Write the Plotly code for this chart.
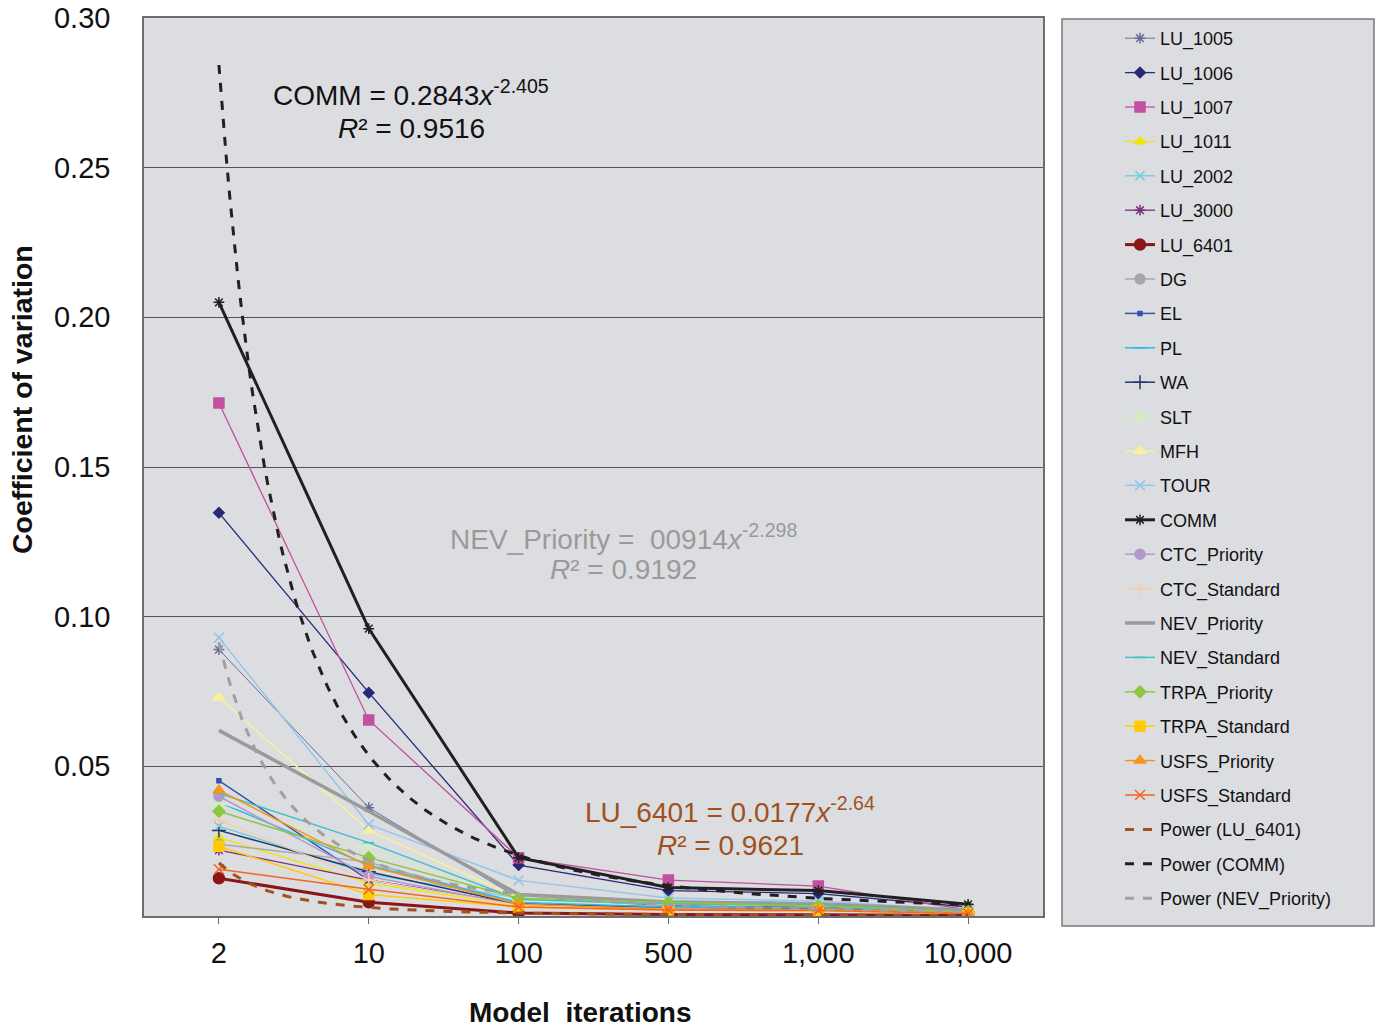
import numpy as np
import plotly.graph_objects as go

# ---------------- data ----------------
iterations = ["2", "10", "100", "500", "1,000", "10,000"]
x_idx = [1, 2, 3, 4, 5, 6]

LU_1005 = [0.089, 0.0362, 0.0060, 0.0035, 0.0030, 0.0015]
LU_1006 = [0.1347, 0.0746, 0.0170, 0.0085, 0.0075, 0.0030]
LU_1007 = [0.1714, 0.0655, 0.0195, 0.0120, 0.0100, 0.0020]
LU_1011 = [0.0262, 0.0110, 0.0035, 0.0020, 0.0018, 0.0008]
LU_2002 = [0.0300, 0.0140, 0.0060, 0.0050, 0.0045, 0.0015]
LU_3000 = [0.0220, 0.0120, 0.0040, 0.0030, 0.0025, 0.0012]
LU_6401 = [0.0126, 0.0046, 0.0010, 0.0005, 0.0004, 0.0002]
DG = [0.0240, 0.0180, 0.0040, 0.0030, 0.0025, 0.0010]
EL = [0.0452, 0.0120, 0.0040, 0.0025, 0.0022, 0.0010]
PL = [0.0380, 0.0170, 0.0045, 0.0030, 0.0025, 0.0012]
WA = [0.0286, 0.0148, 0.0040, 0.0025, 0.0022, 0.0010]
SLT = [0.0380, 0.0222, 0.0055, 0.0040, 0.0035, 0.0015]
MFH = [0.0730, 0.0286, 0.0060, 0.0040, 0.0035, 0.0015]
TOUR = [0.0930, 0.0306, 0.0119, 0.0060, 0.0050, 0.0020]
COMM = [0.2050, 0.0960, 0.0195, 0.0095, 0.0085, 0.0039]
CTC_Priority = [0.0400, 0.0133, 0.0035, 0.0025, 0.0020, 0.0010]
CTC_Standard = [0.0320, 0.0120, 0.0035, 0.0022, 0.0020, 0.0010]
NEV_Priority = [0.0620, 0.0350, 0.0072, 0.0047, 0.0040, 0.0020]
NEV_Standard = [0.0410, 0.0245, 0.0055, 0.0040, 0.0035, 0.0015]
TRPA_Priority = [0.0350, 0.0195, 0.0059, 0.0045, 0.0033, 0.0015]
TRPA_Standard = [0.0233, 0.0072, 0.0030, 0.0020, 0.0018, 0.0008]
USFS_Priority = [0.0420, 0.0166, 0.0040, 0.0022, 0.0022, 0.0010]
USFS_Standard = [0.0156, 0.0089, 0.0030, 0.0020, 0.0018, 0.0008]

# power trendline coefficients (as shown on chart): y = a * x^b
trend_LU_6401 = (0.0177, -2.64)
trend_COMM = (0.2843, -2.405)
trend_NEV = (0.0914, -2.298)

y_ticks = [0.05, 0.10, 0.15, 0.20, 0.25, 0.30]

# ---------------- figure ----------------
FONT = "Liberation Sans, Arial, sans-serif"
series = [
    ("LU_1005", LU_1005, "#6c6c9c", 1, "asterisk-open", 9),
    ("LU_1006", LU_1006, "#27287a", 1.3, "diamond", 8),
    ("LU_1007", LU_1007, "#c150a0", 1.3, "square", 10),
    ("LU_1011", LU_1011, "#f2e600", 1.3, "triangle-up", 9),
    ("LU_2002", LU_2002, "#66d0e0", 1.3, "x-thin-open", 9),
    ("LU_3000", LU_3000, "#7d2f82", 1.3, "asterisk-open", 9),
    ("LU_6401", LU_6401, "#8b1518", 3, "circle", 11),
    ("DG", DG, "#a7a7a9", 1.5, "circle", 10),
    ("EL", EL, "#3553ad", 1.5, "square", 4),
    ("PL", PL, "#27b9ea", 1.5, "line-ew-open", 8),
    ("WA", WA, "#203a6e", 1.5, "cross-thin-open", 10),
    ("SLT", SLT, "#d3e9c8", 1.5, "square", 10),
    ("MFH", MFH, "#f8f19a", 1.5, "triangle-up", 10),
    ("TOUR", TOUR, "#94c5ea", 1.5, "x-thin-open", 10),
    ("COMM", COMM, "#231f20", 3, "asterisk-open", 9),
    ("CTC_Priority", CTC_Priority, "#b398cd", 1.5, "circle", 10),
    ("CTC_Standard", CTC_Standard, "#f9cca5", 1.5, "cross-thin-open", 10),
    ("NEV_Priority", NEV_Priority, "#9a9a9a", 3.5, None, 0),
    ("NEV_Standard", NEV_Standard, "#3fc0c3", 1.5, "line-ew-open", 8),
    ("TRPA_Priority", TRPA_Priority, "#8dc63f", 1.5, "diamond", 9),
    ("TRPA_Standard", TRPA_Standard, "#ffcb05", 1.5, "square", 10),
    ("USFS_Priority", USFS_Priority, "#f7941d", 1.5, "triangle-up", 10),
    ("USFS_Standard", USFS_Standard, "#f26522", 1.5, "x-thin-open", 10),
]

fig = go.Figure()
for i, (name, vals, color, lw, sym, ms) in enumerate(series):
    if sym is None:
        mode = "lines"
        marker = None
    else:
        mode = "lines+markers"
        marker = dict(symbol=sym, size=ms, color=color,
                      line=dict(color=color, width=1.5))
    fig.add_trace(go.Scatter(
        x=x_idx, y=vals, name=name, mode=mode,
        line=dict(color=color, width=lw), marker=marker,
        legendgroup=f"g{i}",
    ))

xf = np.linspace(1, 6, 200)
for j, (name, (a, b), color) in enumerate([
    ("Power (LU_6401)", trend_LU_6401, "#a0511e"),
    ("Power (COMM)", trend_COMM, "#231f20"),
    ("Power (NEV_Priority)", trend_NEV, "#a0a0a0"),
]):
    fig.add_trace(go.Scatter(
        x=xf, y=a * xf ** b, name=name, mode="lines",
        line=dict(color=color, width=3, dash="dash"),
        legendgroup=f"t{j}",
    ))

L, R, T, B = 144, 333, 18, 111
W, H = 1376, 1027
pw = W - L - R
ph = H - T - B

def px(xpix):
    return (xpix - L) / pw

def py(ypix):
    return (H - B - ypix) / ph

fig.update_layout(
    width=W, height=H,
    margin=dict(l=L, r=R, t=T, b=B, autoexpand=False),
    paper_bgcolor="white",
    plot_bgcolor="#dcdde0",
    font=dict(family=FONT, color="#111111"),
    showlegend=True,
    legend=dict(
        x=px(1120), y=py(20), xanchor="left", yanchor="top",
        bgcolor="rgba(0,0,0,0)", borderwidth=0,
        font=dict(size=18, family=FONT, color="#111111"),
        traceorder="grouped", tracegroupgap=8,
        itemwidth=30,
    ),
    xaxis=dict(
        range=[0.5, 6.5], tickmode="array", tickvals=x_idx, ticktext=iterations,
        tickfont=dict(size=29, family=FONT, color="#111111"),
        showgrid=False, zeroline=False,
        showline=True, linecolor="#6d6d6d", linewidth=1.5, mirror=True,
        ticks="outside", ticklen=6, tickcolor="#6d6d6d",
        ticklabelstandoff=4,
        automargin=False,
    ),
    yaxis=dict(
        range=[0, 0.30], tickmode="array", tickvals=y_ticks,
        ticktext=[f"{v:.2f}" for v in y_ticks],
        tickfont=dict(size=29, family=FONT, color="#111111"),
        showgrid=True, gridcolor="#555555", gridwidth=1,
        zeroline=False,
        showline=True, linecolor="#6d6d6d", linewidth=1.5, mirror=True,
        ticks="", ticklabelstandoff=26,
        automargin=False,
    ),
    shapes=[dict(type="rect", xref="paper", yref="paper",
                 x0=px(1062), x1=px(1374), y0=py(926), y1=py(19),
                 fillcolor="#dcdde0", line=dict(color="#7a7a7a", width=1.5),
                 layer="below")],
)

ann = []
def add(text, xp, yp, color, size=28):
    ann.append(dict(text=text, x=px(xp), y=py(yp), xref="paper", yref="paper",
                    showarrow=False, font=dict(size=size, family=FONT, color=color),
                    xanchor="center", yanchor="middle"))

add("COMM = 0.2843<i>x</i><sup>-2.405</sup>", 411, 93, "#111111")
add("<i>R</i>² = 0.9516", 411, 128, "#111111")
add("NEV_Priority =  00914<i>x</i><sup>-2.298</sup>", 623, 537, "#9a9a9a")
add("<i>R</i>² = 0.9192", 623, 569, "#9a9a9a")
add("LU_6401 = 0.0177<i>x</i><sup>-2.64</sup>", 730, 810, "#a0511e")
add("<i>R</i>² = 0.9621", 730, 845, "#a0511e")

ann.append(dict(text="<b>Model  iterations</b>", x=px(580), y=py(1012),
                xref="paper", yref="paper", showarrow=False,
                font=dict(size=28, family=FONT, color="#111111"),
                xanchor="center", yanchor="middle"))
ann.append(dict(text="<b>Coefficient of variation</b>", x=px(22), y=py(400),
                xref="paper", yref="paper", showarrow=False, textangle=-90,
                font=dict(size=28.5, family=FONT, color="#111111"),
                xanchor="center", yanchor="middle"))
fig.update_layout(annotations=ann)

fig.write_html("out.html", config={"displayModeBar": False},
               post_script="document.body.style.margin='0';document.body.style.overflow='hidden';")
